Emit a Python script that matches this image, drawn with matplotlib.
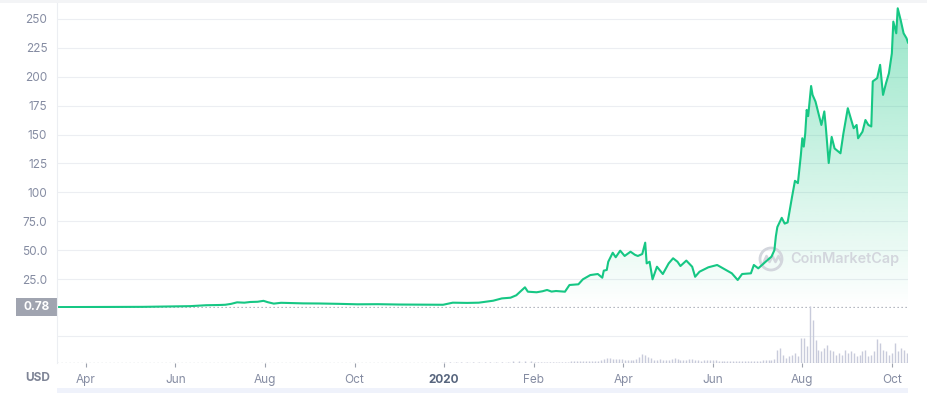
import numpy as np
import matplotlib
matplotlib.use("Agg")
import matplotlib.pyplot as plt
import matplotlib.dates as mdates
from matplotlib.patches import Rectangle, Ellipse
from matplotlib.lines import Line2D

plt.rcParams['font.family'] = ['Inter', 'DejaVu Sans']

# price history (USD)
price_dates = [
    '2019-03-13', '2019-03-25', '2019-04-10', '2019-04-24', '2019-05-10', '2019-05-26',
    '2019-06-11', '2019-06-22', '2019-07-01', '2019-07-05', '2019-07-09', '2019-07-13',
    '2019-07-18', '2019-07-22', '2019-07-27', '2019-07-31', '2019-08-03', '2019-08-07',
    '2019-08-12', '2019-08-18', '2019-08-27', '2019-09-07', '2019-09-20', '2019-10-04',
    '2019-10-25', '2019-11-16', '2019-12-10', '2019-12-31', '2020-01-04', '2020-01-09',
    '2020-01-13', '2020-01-18', '2020-01-21', '2020-01-24', '2020-01-26', '2020-01-28',
    '2020-01-29', '2020-01-30', '2020-02-03', '2020-02-07', '2020-02-10', '2020-02-13',
    '2020-02-16', '2020-02-22', '2020-02-25', '2020-03-02', '2020-03-05', '2020-03-10',
    '2020-03-15', '2020-03-18', '2020-03-19', '2020-03-21', '2020-03-22', '2020-03-25',
    '2020-03-27', '2020-03-30', '2020-04-02', '2020-04-06', '2020-04-09', '2020-04-11',
    '2020-04-14', '2020-04-16', '2020-04-17', '2020-04-19', '2020-04-21', '2020-04-24',
    '2020-04-28', '2020-05-02', '2020-05-05', '2020-05-08', '2020-05-10', '2020-05-14',
    '2020-05-18', '2020-05-20', '2020-05-23', '2020-05-29', '2020-06-04', '2020-06-08',
    '2020-06-12', '2020-06-14', '2020-06-18', '2020-06-21', '2020-06-27', '2020-06-29',
    '2020-07-02', '2020-07-07', '2020-07-11', '2020-07-13', '2020-07-14', '2020-07-15',
    '2020-07-18', '2020-07-20', '2020-07-22', '2020-07-25', '2020-07-27', '2020-07-29',
    '2020-07-31', '2020-08-01', '2020-08-02', '2020-08-03', '2020-08-04', '2020-08-05',
    '2020-08-07', '2020-08-08', '2020-08-10', '2020-08-12', '2020-08-14', '2020-08-16',
    '2020-08-17', '2020-08-19', '2020-08-21', '2020-08-23', '2020-08-27', '2020-08-29',
    '2020-09-01', '2020-09-03', '2020-09-05', '2020-09-07', '2020-09-08', '2020-09-11',
    '2020-09-13', '2020-09-15', '2020-09-17', '2020-09-18', '2020-09-21', '2020-09-23',
    '2020-09-25', '2020-09-27', '2020-09-29', '2020-10-01', '2020-10-02', '2020-10-04',
    '2020-10-05', '2020-10-07', '2020-10-09', '2020-10-11', '2020-10-12',
]
price_values = [
    0.78, 0.82, 0.85, 0.9, 1.0, 1.3,
    1.6, 2.4, 2.6, 2.8, 3.6, 4.9,
    4.6, 5.2, 5.4, 6.2, 5.0, 3.8,
    4.5, 4.3, 4.0, 3.9, 3.6, 3.2,
    3.3, 3.0, 2.9, 2.8, 4.6, 4.4,
    4.6, 6.3, 8.3, 8.9, 11.0, 15.6,
    17.9, 14.1, 13.6, 14.5, 15.6, 14.2,
    14.7, 14.1, 19.9, 20.5, 24.8, 28.5,
    29.4, 26.2, 32.3, 32.9, 40.0, 47.8,
    43.9, 49.6, 45.0, 48.7, 46.0, 45.0,
    46.7, 56.5, 38.6, 40.0, 24.8, 35.7,
    29.4, 38.6, 43.0, 40.0, 36.3, 41.0,
    35.7, 27.0, 31.4, 35.2, 37.2, 34.3,
    31.4, 30.0, 24.2, 29.4, 30.0, 37.2,
    34.3, 40.0, 44.4, 50.0, 62.0, 70.0,
    78.0, 73.0, 74.0, 96.0, 110.0, 108.0,
    132.0, 146.8, 139.6, 151.0, 171.3, 166.0,
    192.0, 184.3, 178.5, 168.4, 158.3, 170.0,
    156.9, 125.4, 148.0, 138.0, 133.8, 151.0,
    172.8, 164.0, 155.5, 158.3, 146.8, 152.5,
    162.6, 158.3, 157.0, 196.0, 198.8, 210.3,
    184.3, 194.3, 203.0, 220.2, 247.7, 237.6,
    259.2, 249.1, 237.6, 233.3, 229.6,
]

# traded volume every second day from 2020-01-01 (million USD)
volume_start = '2020-01-01'
volume_values = [
    10, 10, 10, 10, 10, 10, 10, 10, 15, 15, 15, 15, 20, 20, 20, 20,
    15, 15, 15, 12, 12, 15, 15, 15, 12, 12, 15, 15, 20, 20, 20,
    20, 20, 20, 20, 25, 25, 25, 30, 40, 50, 50, 45, 40, 45, 40,
    30, 30, 30, 30, 40, 60, 90, 80, 60, 50, 30, 30, 40, 30, 30,
    30, 40, 50, 40, 30, 30, 30, 40, 40, 30, 30, 25, 30, 30, 30,
    30, 30, 25, 25, 20, 20, 20, 20, 20, 20, 20, 25, 25, 25, 25,
    25, 25, 30, 30, 30, 30, 40,
    130, 150, 80, 50, 70, 80, 100, 70, 250,
    250, 170, 570, 430, 230, 130, 120, 150, 180, 130, 120, 80, 100, 80, 130,
    100, 120, 100, 70, 80, 120, 130, 70, 80, 120, 240, 200, 130, 120, 80,
    100, 200, 120, 150, 130, 100,
]

tick_dates = ['2019-04-01', '2019-06-01', '2019-08-01', '2019-10-01', '2020-01-01',
              '2020-02-01', '2020-04-01', '2020-06-01', '2020-08-01', '2020-10-01']
tick_labels = ['Apr', 'Jun', 'Aug', 'Oct', '2020', 'Feb', 'Apr', 'Jun', 'Aug', 'Oct']
price_ticks = [25, 50, 75, 100, 125, 150, 175, 200, 225, 250]
price_tick_labels = ['25.0', '50.0', '75.0', '100', '125', '150', '175', '200', '225', '250']
open_price = 0.78

GREEN = '#16c784'
GRID = '#eceef2'
LABEL = '#858ca2'
DOT = '#9ea3ae'

p_dates = np.array(price_dates, dtype='datetime64[D]')
p_vals = np.array(price_values)
v_dates = np.datetime64(volume_start) + 2 * np.arange(len(volume_values))
v_vals = np.array(volume_values)

# ordinal-like time axis: labelled ticks are equally spaced
anchor_dates = ['2019-02-01'] + tick_dates + ['2020-12-01']
anchor_num = mdates.date2num(np.array(anchor_dates, dtype='datetime64[D]'))
anchor_pos = np.arange(len(anchor_num)) - 1.0


def fwd(x):
    return np.interp(x, anchor_num, anchor_pos)


def inv(p):
    return np.interp(p, anchor_pos, anchor_num)


W, H = 927, 393
fig = plt.figure(figsize=(W / 100, H / 100), dpi=100)


def px_box(x0, y0, x1, y1):
    return [x0 / W, 1 - y1 / H, (x1 - x0) / W, (y1 - y0) / H]


ax = fig.add_axes(px_box(57, 3, 908, 308))
axv = fig.add_axes(px_box(57, 305, 908, 363))
for a in (ax, axv):
    a.set_xscale('function', functions=(fwd, inv))
    a.set_xlim(p_dates[0], p_dates[-1])
    for s in a.spines.values():
        s.set_visible(False)
    a.patch.set_alpha(0)

# price pane
ax.set_ylim(0, 263.8)
ax.set_yticks(price_ticks, price_tick_labels)
ax.tick_params(axis='y', length=0, pad=7, labelsize=8.5, labelcolor=LABEL)
ax.set_xticks([])
for v in price_ticks:
    ax.axhline(v, color=GRID, lw=0.8, zorder=0)

fill = ax.fill_between(p_dates, p_vals, 0, color='none', lw=0)
grad = np.zeros((256, 1, 4))
grad[..., 0] = 22 / 255
grad[..., 1] = 199 / 255
grad[..., 2] = 132 / 255
grad[..., 3] = np.linspace(0.45, 0.0, 256)[:, None]
img = ax.imshow(grad, extent=[0, 1, 0, 1], transform=ax.transAxes,
                aspect='auto', zorder=1, interpolation='bilinear')
img.set_clip_path(fill.get_paths()[0], transform=ax.transData)

ax.plot(p_dates, p_vals, color=GREEN, lw=1.5, zorder=3, solid_joinstyle='round')
ax.axhline(open_price, color=DOT, lw=0.9, ls=(0, (1, 2.2)), zorder=2)

# watermark
wm = '#d3d6dd'
ax.text(790 / W, 1 - 259 / H, 'CoinMarketCap', transform=fig.transFigure,
        fontsize=10.4, color=wm, fontweight='semibold', va='center', ha='left', zorder=2)
ax.add_patch(Ellipse((771 / W, 1 - 259 / H), 22 / W, 22 / H, transform=fig.transFigure,
                     fill=False, ec=wm, lw=2, zorder=2))
wx = np.array([763, 766.5, 769.5, 772.5, 775.5, 778.5, 781]) / W
wy = 1 - np.array([264, 256, 262, 256, 262, 256, 261]) / H
ax.add_line(Line2D(wx, wy, transform=fig.transFigure, color=wm, lw=1.8, zorder=2))

# volume pane
axv.set_ylim(0, 580)
axv.vlines(v_dates, 0, v_vals, color='#c8cbdb', lw=1.0, zorder=2)
axv.axhline(270, color=GRID, lw=0.8, zorder=0)
axv.axhline(0, color=DOT, lw=0.9, ls=(0, (1, 2.2)), zorder=3)
axv.set_yticks([])
axv.set_xticks(np.array(tick_dates, dtype='datetime64[D]'), tick_labels)
axv.tick_params(axis='x', length=3, width=0.8, color=DOT, pad=5,
                labelsize=8.5, labelcolor=LABEL)
lab2020 = axv.get_xticklabels()[4]
lab2020.set_fontweight('bold')
lab2020.set_color('#58667e')

# left axis line and decorations
fig.add_artist(Line2D([57 / W, 57 / W], [1 - 3 / H, 1 - 363 / H], color=GRID, lw=0.8))
fig.add_artist(Rectangle((0, 1 - 3 / H), 1, 3 / H, color='#f3f4f6', lw=0))
fig.add_artist(Rectangle((16 / W, 1 - 316 / H), 41 / W, 18 / H, color='#a0a4b0', lw=0))
fig.text(36.5 / W, 1 - 307 / H, f'{open_price:.2f}', color='white', fontsize=8.5,
         fontweight='bold', ha='center', va='center')
fig.text(38 / W, 1 - 378 / H, 'USD', color='#7e8496', fontsize=8.5,
         fontweight='bold', ha='center', va='center')
fig.add_artist(Rectangle((57 / W, 0), 851 / W, 5 / H, color='#eff2fb', lw=0))

fig.savefig('out.png', dpi=100)
